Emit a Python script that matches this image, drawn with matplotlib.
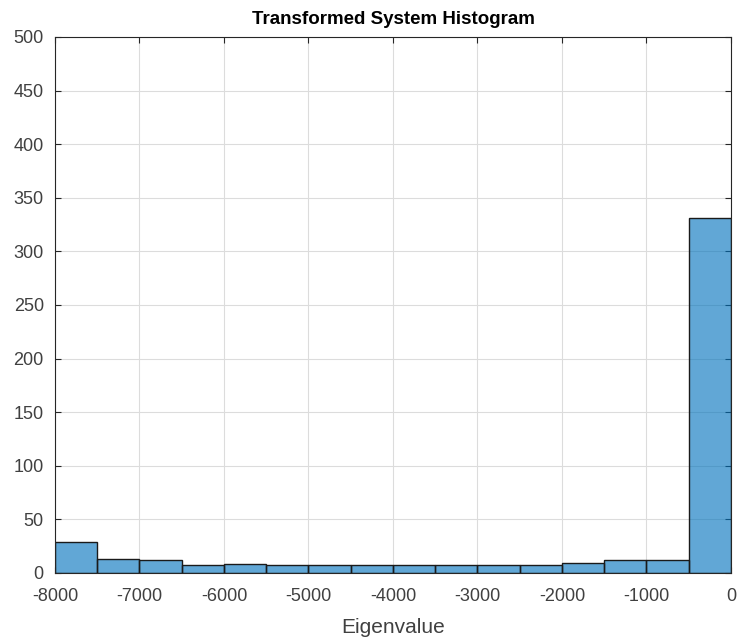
import numpy as np
import matplotlib.pyplot as plt

plt.rcParams["font.family"] = ["Liberation Sans", "DejaVu Sans"]

# histogram bins (eigenvalue edges) and counts per bin
bin_edges = np.arange(-8000, 1, 500)
counts = [29, 13, 12, 7, 8, 7, 7, 7, 7, 7, 7, 7, 9, 12, 12, 331]

x_ticks = np.arange(-8000, 1, 1000)
y_ticks = np.arange(0, 501, 50)

fig = plt.figure(figsize=(7.38, 6.43), dpi=100)
ax = fig.add_axes([0.0745, 0.1089, 0.916, 0.8336])

ax.bar(
    bin_edges[:-1],
    counts,
    width=np.diff(bin_edges),
    align="edge",
    color="#0072BD",
    alpha=0.62,
    edgecolor="none",
    zorder=2,
)
ax.bar(
    bin_edges[:-1],
    counts,
    width=np.diff(bin_edges),
    align="edge",
    fill=False,
    edgecolor="#1a1a1a",
    linewidth=1.0,
    zorder=3,
)

ax.set_xlim(-8000, 0)
ax.set_ylim(0, 500)
ax.set_xticks(x_ticks)
ax.set_yticks(y_ticks)
ax.set_xticklabels([str(v) for v in x_ticks])
ax.grid(True, color="#dcdcdc", linewidth=0.8, zorder=0)
ax.set_axisbelow(True)

ax.tick_params(
    direction="in", length=4, width=0.8, colors="#262626",
    labelsize=13, top=True, right=True,
)
ax.tick_params(axis="x", pad=11)
ax.tick_params(axis="y", pad=8)
for lab in ax.get_xticklabels() + ax.get_yticklabels():
    lab.set_color("#404040")
for s in ax.spines.values():
    s.set_color("#262626")
    s.set_linewidth(0.8)
    s.set_zorder(4)

ax.set_xlabel("Eigenvalue", fontsize=15, color="#404040", labelpad=9)
ax.set_title("Transformed System Histogram", fontsize=13.5, fontweight="bold", pad=9)

fig.savefig("out.png", dpi=100)
